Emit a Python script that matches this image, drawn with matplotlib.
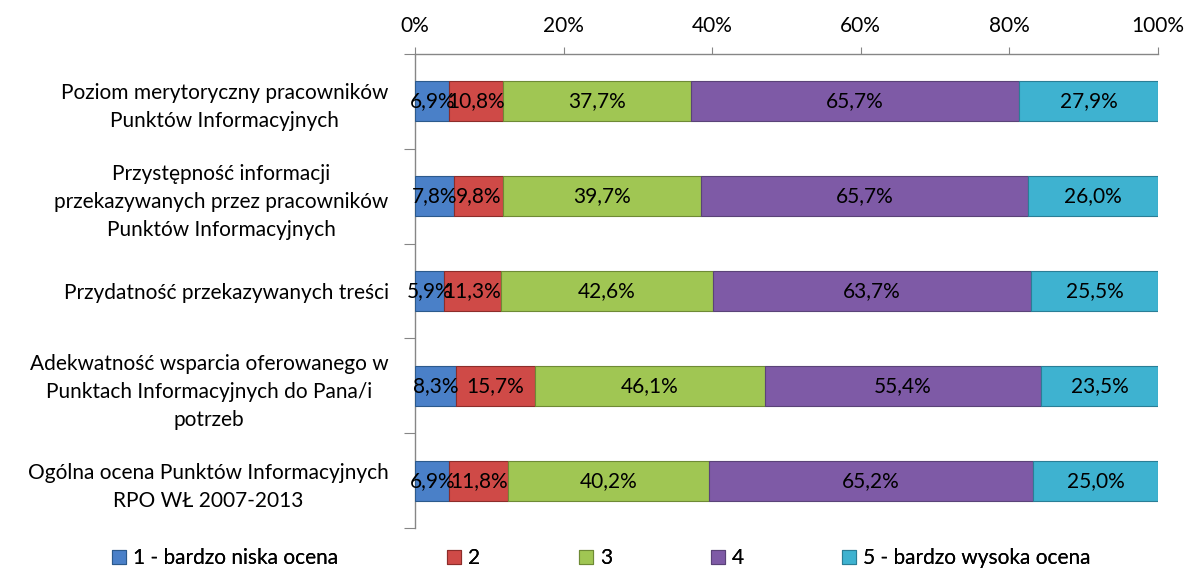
import matplotlib
matplotlib.use("Agg")
import matplotlib.pyplot as plt
from matplotlib.patches import Patch
import numpy as np

categories = [
    "Poziom merytoryczny pracowników\nPunktów Informacyjnych",
    "Przystępność informacji\nprzekazywanych przez pracowników\nPunktów Informacyjnych",
    "Przydatność przekazywanych treści",
    "Adekwatność wsparcia oferowanego w\nPunktach Informacyjnych do Pana/i\npotrzeb",
    "Ogólna ocena Punktów Informacyjnych\nRPO WŁ 2007-2013",
]
series_names = ["1 - bardzo niska ocena", "2", "3", "4", "5 - bardzo wysoka ocena"]
s1 = [6.9, 7.8, 5.9, 8.3, 6.9]
s2 = [10.8, 9.8, 11.3, 15.7, 11.8]
s3 = [37.7, 39.7, 42.6, 46.1, 40.2]
s4 = [65.7, 65.7, 63.7, 55.4, 65.2]
s5 = [27.9, 26.0, 25.5, 23.5, 25.0]
xticks = [0, 20, 40, 60, 80, 100]

colors = ["#4A80C8", "#CF4A47", "#A0C653", "#7E5AA6", "#3EB2D0"]
edges = ["#2C5A8C", "#8C2D2A", "#6E8A35", "#5A4378", "#2A7E96"]

FS = 15
plt.rcParams['font.family'] = ['Lato', 'DejaVu Sans']
fig = plt.figure(figsize=(11.88, 5.68), dpi=100)
ax = fig.add_axes([415/1188, 1-528/568, (1158-415)/1188, (528-54)/568])

data = np.array([s1, s2, s3, s4, s5])
totals = data.sum(axis=0)
pct = data / totals * 100
y = np.arange(len(categories))
left = np.zeros(len(categories))
for i in range(5):
    ax.barh(y, pct[i], left=left, height=0.42, color=colors[i],
            edgecolor=edges[i], linewidth=0.8, label=series_names[i], zorder=3)
    for j in range(len(categories)):
        ax.text(left[j] + pct[i][j] / 2, y[j], f"{data[i][j]:.1f}%".replace('.', ','),
                ha='center', va='center', fontsize=FS, color='black', zorder=4)
    left += pct[i]

ax.set_xlim(0, 100)
ax.set_ylim(len(categories) - 0.5, -0.5)
ax.xaxis.tick_top()
ax.set_xticks(xticks)
ax.set_xticklabels([f"{t}%" for t in xticks], fontsize=FS)
ax.tick_params(axis='x', direction='out', length=5, color='#868686', pad=8)
ax.set_yticks(np.arange(-0.5, len(categories) + 0.5, 1.0))
ax.set_yticklabels([])
ax.set_yticks(y, minor=True)
ax.set_yticklabels(categories, minor=True, fontsize=FS, multialignment='center', linespacing=1.5)
ax.tick_params(axis='y', which='major', direction='out', length=8, color='#868686')
ax.tick_params(axis='y', which='minor', length=0, pad=19)
for s in ['right', 'bottom']:
    ax.spines[s].set_visible(False)
for s in ['top', 'left']:
    ax.spines[s].set_color('#868686')
    ax.spines[s].set_linewidth(1.0)

xs = [112, 447, 579, 711, 842]
for i in range(5):
    h = Patch(facecolor=colors[i], edgecolor=edges[i], linewidth=0.8)
    leg = fig.legend([h], [series_names[i]], loc='center left',
                     bbox_to_anchor=(xs[i] / 1188, 1 - 558/568), frameon=False,
                     fontsize=FS, handlelength=0.65, handleheight=0.65, handletextpad=0.35,
                     borderpad=0, borderaxespad=0)
    fig.add_artist(leg)

fig.savefig("out.png", dpi=100)
